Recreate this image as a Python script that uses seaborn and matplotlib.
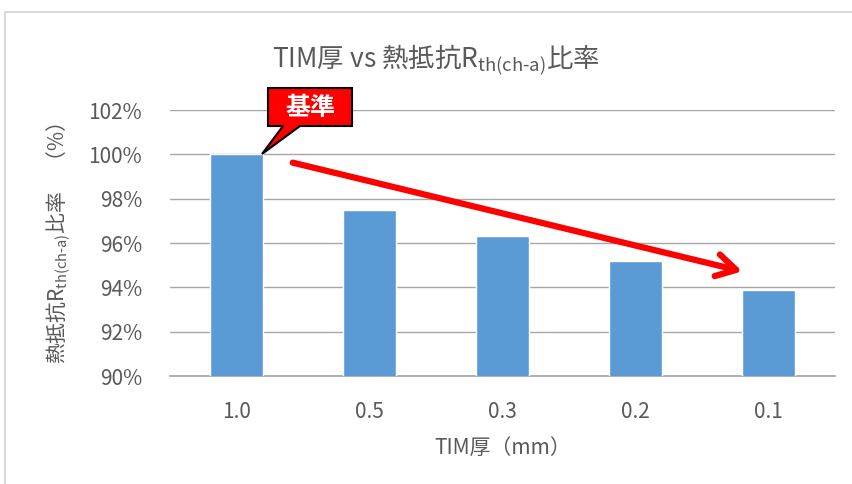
import matplotlib
matplotlib.use("Agg")
import matplotlib.pyplot as plt
import seaborn as sns
import pandas as pd
from matplotlib.patches import Rectangle, FancyArrowPatch, Polygon
from matplotlib.ticker import FuncFormatter

# TIM thickness (mm) and thermal resistance ratio relative to 1.0 mm
thickness = ["1.0", "0.5", "0.3", "0.2", "0.1"]
ratio = [100.0, 97.5, 96.3, 95.2, 93.9]
y_ticks = [90, 92, 94, 96, 98, 100, 102]

sns.set_theme(style="white")
plt.rcParams["font.family"] = ["Noto Sans CJK JP", "DejaVu Sans"]
plt.rcParams["mathtext.fontset"] = "custom"
plt.rcParams["mathtext.rm"] = "Noto Sans CJK JP"

df = pd.DataFrame({"thickness": thickness, "ratio": ratio})

W, H = 852, 484
fig = plt.figure(figsize=(W / 100, H / 100), dpi=100)
ax = fig.add_axes([170 / W, 1 - 376 / H, 665 / W, 266 / H])

sns.barplot(data=df, x="thickness", y="ratio", color="#5B9BD5",
            width=0.4, ax=ax, saturation=1, zorder=3)

ax.set_ylim(90, 102)
ax.set_yticks(y_ticks)
ax.yaxis.set_major_formatter(FuncFormatter(lambda v, p: f"{v:.0f}%"))
ax.grid(axis="y", color="#A6A6A6", linewidth=1.0, zorder=0)
for s in ["top", "right", "left"]:
    ax.spines[s].set_visible(False)
ax.spines["bottom"].set_color("#A6A6A6")
ax.tick_params(axis="y", length=0, labelsize=15, colors="#595959", pad=20)
ax.tick_params(axis="x", length=0, labelsize=15, colors="#595959", pad=18)

ax.set_xlabel("TIM厚（mm）", fontsize=15, color="#595959", labelpad=10)
ax.set_ylabel("熱抵抗R$_{\\mathrm{th(ch\\text{-}a)}}$比率　（%）", fontsize=15,
              color="#595959", labelpad=12)


def to_fig(px, py):
    return (px / W, 1 - py / H)


fig.text(*to_fig(436, 60), "TIM厚 vs 熱抵抗R$_{\\mathrm{th(ch\\text{-}a)}}$比率",
         ha="center", va="center", fontsize=19, color="#595959")

# outer chart frame
fig.patches.append(Rectangle((5 / W, -0.1), 2.0, 1.1 - 12 / H, transform=fig.transFigure,
                             fill=False, edgecolor="#D9D9D9", linewidth=1.5))

# callout marking the reference bar
bx0, by0, bx1, by1 = 268, 88, 352, 126
callout = Polygon([to_fig(*p) for p in
                   [(bx0, by0), (bx1, by0), (bx1, by1), (300, by1), (262, 154), (283, by1), (bx0, by1)]],
                  closed=True, transform=fig.transFigure, facecolor="#FF0000",
                  edgecolor="black", linewidth=1.5, zorder=5)
fig.patches.append(callout)
fig.text(*to_fig((bx0 + bx1) / 2, (by0 + by1) / 2 + 1), "基準", ha="center", va="center",
         fontsize=18, fontweight="bold", color="white", zorder=6)

# trend arrow
arrow = FancyArrowPatch(to_fig(290, 162), to_fig(745, 272), transform=fig.transFigure,
                        arrowstyle="->,head_length=14,head_width=8", color="#FF0000",
                        linewidth=4.5, zorder=6, capstyle="round", joinstyle="round")
fig.patches.append(arrow)

fig.savefig("out.png", dpi=100)
